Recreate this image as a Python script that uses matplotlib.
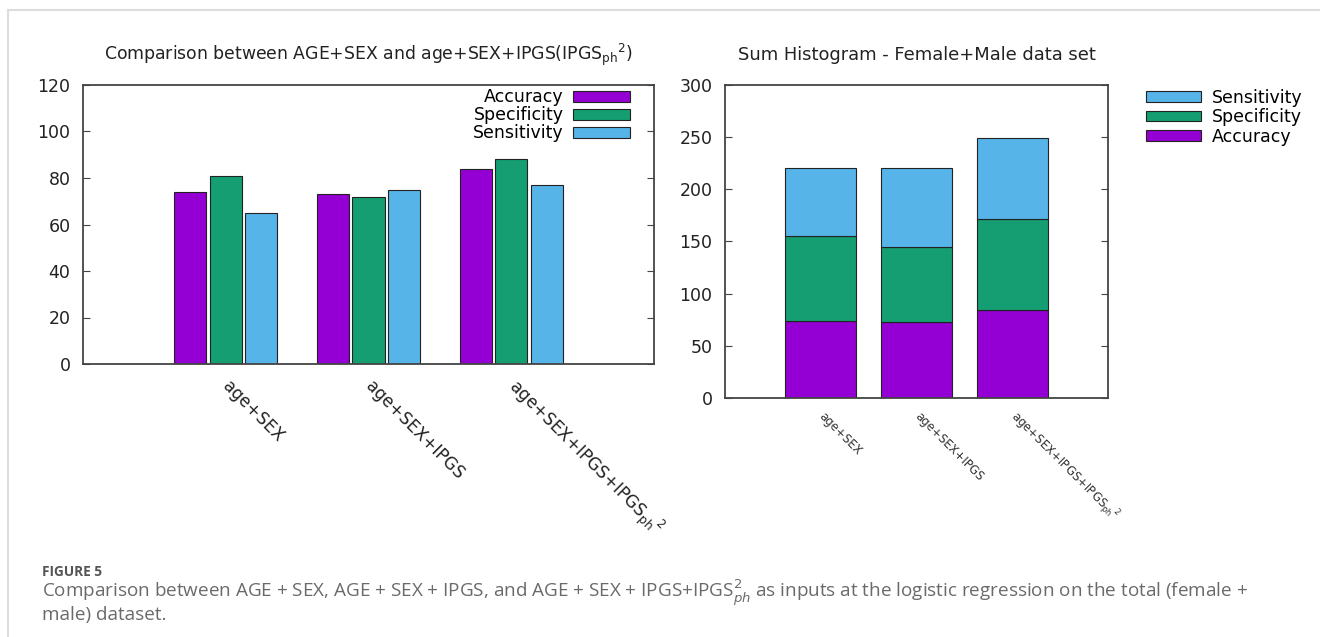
import numpy as np
import matplotlib
matplotlib.use('Agg')
import matplotlib.pyplot as plt
from matplotlib.patches import Patch
from matplotlib.lines import Line2D

# data
groups = ['age+SEX', 'age+SEX+IPGS', r'age+SEX+IPGS+IPGS$_{\mathrm{ph}}$$^{2}$']
accuracy = [74, 73, 84]
specificity = [81, 72, 88]
sensitivity = [65, 75, 77]

series_names = ['Accuracy', 'Specificity', 'Sensitivity']
colors = ['#9400d3', '#159e72', '#56b4e9']

plt.rcParams['font.family'] = ['DejaVu Sans']
axcol = '#444444'

fig = plt.figure(figsize=(13.2, 6.37), dpi=100)
W, H = 1320, 637

def box(l, t, r, b):
    return [l / W, 1 - b / H, (r - l) / W, (b - t) / H]

def style(ax, ymax, step):
    for s in ax.spines.values():
        s.set_color(axcol)
        s.set_linewidth(1.3)
    ax.set_xlim(-1, 3)
    ax.set_ylim(0, ymax)
    ax.set_yticks(np.arange(0, ymax + 1, step))
    ax.tick_params(axis='y', direction='in', length=5, right=True, color=axcol,
                   labelsize=12.5, labelcolor='#222222', pad=9)
    ax.tick_params(axis='x', length=0)

x = np.arange(len(groups))

#%% left: clustered bars
ax1 = fig.add_axes(box(83, 85, 654, 364))
vals = [accuracy, specificity, sensitivity]
for k, (v, c, n) in enumerate(zip(vals, colors, series_names)):
    ax1.bar(x + (k - 1) * 0.25, v, width=0.225, color=c, edgecolor='#222222',
            linewidth=0.8, label=n)
style(ax1, 120, 20)
ax1.set_xticks(x)
ax1.set_xticklabels(groups, rotation=-45, ha='left', va='center',
                    rotation_mode='anchor', fontsize=12.2, color='#222222')
ax1.tick_params(axis='x', pad=14)
ax1.set_title(r'Comparison between AGE+SEX and age+SEX+IPGS(IPGS$_{\mathrm{ph}}$$^{2}$)',
              fontsize=12.4, color='#222222', pad=18)
h1 = [Patch(facecolor=c, edgecolor='#222222', linewidth=0.8) for c in colors]
ax1.legend(h1, series_names, loc='upper right', bbox_to_anchor=(0.970, 1.0125),
           frameon=False, markerfirst=False, fontsize=12.5, handlelength=3.3,
           handleheight=0.55, labelspacing=0.0, handletextpad=0.5,
           borderaxespad=0)

#%% right: stacked bars
ax2 = fig.add_axes(box(725, 85, 1108, 398))
bottom = np.zeros(len(groups))
for v, c, n in zip(vals, colors, series_names):
    ax2.bar(x, v, width=0.74, bottom=bottom, color=c, edgecolor='#222222',
            linewidth=0.8, label=n)
    bottom = bottom + np.array(v)
style(ax2, 300, 50)
ax2.set_xticks(x)
ax2.set_xticklabels(groups, rotation=-45, ha='left', va='center',
                    rotation_mode='anchor', fontsize=8.5, color='#333333')
ax2.tick_params(axis='x', pad=12)
ax2.set_title('Sum Histogram - Female+Male data set', fontsize=12.9,
              color='#222222', pad=18)
h2 = [Patch(facecolor=c, edgecolor='#222222', linewidth=0.8) for c in colors][::-1]
ax2.legend(h2, series_names[::-1], loc='upper left', bbox_to_anchor=(1.08, 1.01),
           frameon=False, fontsize=12.5, handlelength=3.2, handleheight=0.55,
           labelspacing=0.08, handletextpad=0.6, borderaxespad=0)

#%% frame and caption
fig.add_artist(Line2D([8 / W, 1], [1 - 10 / H, 1 - 10 / H], color='#dddddd', lw=1.5))
fig.add_artist(Line2D([8 / W, 8 / W], [0, 1 - 10 / H], color='#dddddd', lw=1.5))

cap = ['FIGURE 5',
       'Comparison between AGE + SEX, AGE + SEX + IPGS, and AGE + SEX + IPGS+IPGS$^{2}_{ph}$ '
       'as inputs at the logistic regression on the total (female +',
       'male) dataset.']
fig.text(42 / W, 1 - 572 / H, cap[0], fontsize=9.8, fontweight='bold', color='#555555',
         family='Open Sans', va='center')
fig.text(42 / W, 1 - 593 / H, cap[1], fontsize=13.6, color='#6a6a6a', family='Open Sans',
         va='center')
fig.text(42 / W, 1 - 615 / H, cap[2], fontsize=13.6, color='#6a6a6a', family='Open Sans',
         va='center')

plt.savefig('out.png', dpi=100)
plt.close()
